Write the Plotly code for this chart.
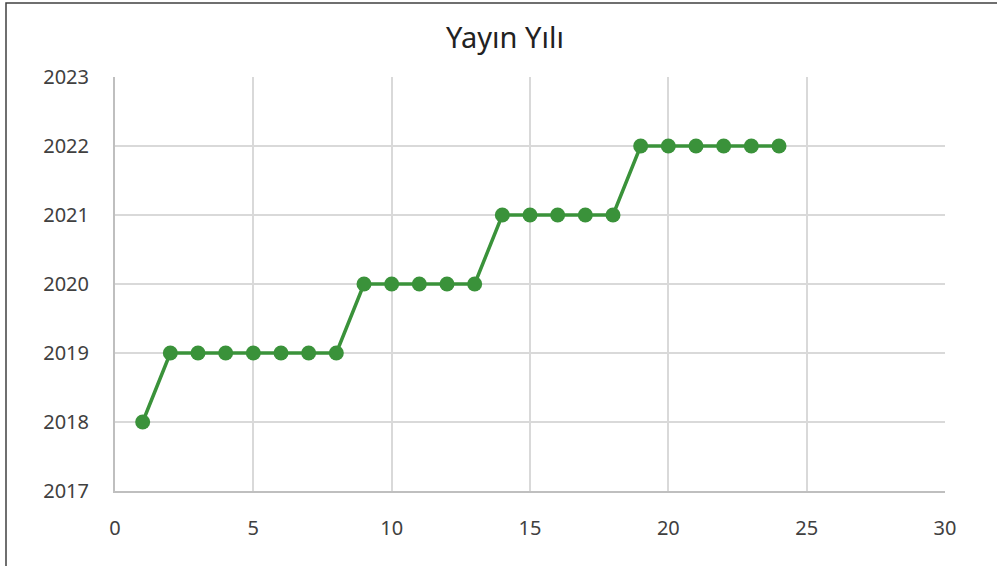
import plotly.graph_objects as go

sira = list(range(1, 25))
yil = [2018, 2019, 2019, 2019, 2019, 2019, 2019, 2019,
       2020, 2020, 2020, 2020, 2020,
       2021, 2021, 2021, 2021, 2021,
       2022, 2022, 2022, 2022, 2022, 2022]

W, H = 997, 566
L, R, T, B = 115, 52, 77, 75
pw, ph = W - L - R, H - T - B

fig = go.Figure()
fig.add_trace(go.Scatter(
    x=sira, y=yil, mode="lines+markers",
    line=dict(color="#3a923a", width=3.5),
    marker=dict(color="#3a923a", size=15),
    showlegend=False,
))

axis_font = dict(family="Noto Sans, Open Sans, sans-serif", size=20, color="#404040")
fig.update_xaxes(range=[0, 30], dtick=5, tick0=0, showgrid=True, gridcolor="#d9d9d9", gridwidth=2,
                 showline=True, linecolor="#bfbfbf", linewidth=2, zeroline=False,
                 tickfont=axis_font, ticks="", ticklabelstandoff=18)
fig.update_yaxes(range=[2017, 2023], dtick=1, showgrid=True, gridcolor="#d9d9d9", gridwidth=2,
                 showline=True, linecolor="#bfbfbf", linewidth=2, zeroline=False,
                 tickfont=axis_font, ticks="", ticklabelstandoff=20, tickformat="d")

# outer frame of the chart image
fig.add_shape(type="rect", xref="paper", yref="paper",
              x0=(6 - L) / pw, x1=(1002 - L) / pw,
              y0=1 - (572 - T) / ph, y1=1 + (T - 3) / ph,
              line=dict(color="#404040", width=1.5))

fig.update_layout(
    width=W, height=H,
    margin=dict(l=L, r=R, t=T, b=B),
    paper_bgcolor="white", plot_bgcolor="white",
    title=dict(text="Yayın Yılı", x=505 / W, xref="container", xanchor="center",
               y=1 - 38 / H, yref="container", yanchor="middle",
               font=dict(family="Noto Sans, Open Sans, sans-serif", size=29, color="#222222")),
)

fig.write_html("out.html", config={"displayModeBar": False},
               post_script="document.body.style.margin='0px';")
